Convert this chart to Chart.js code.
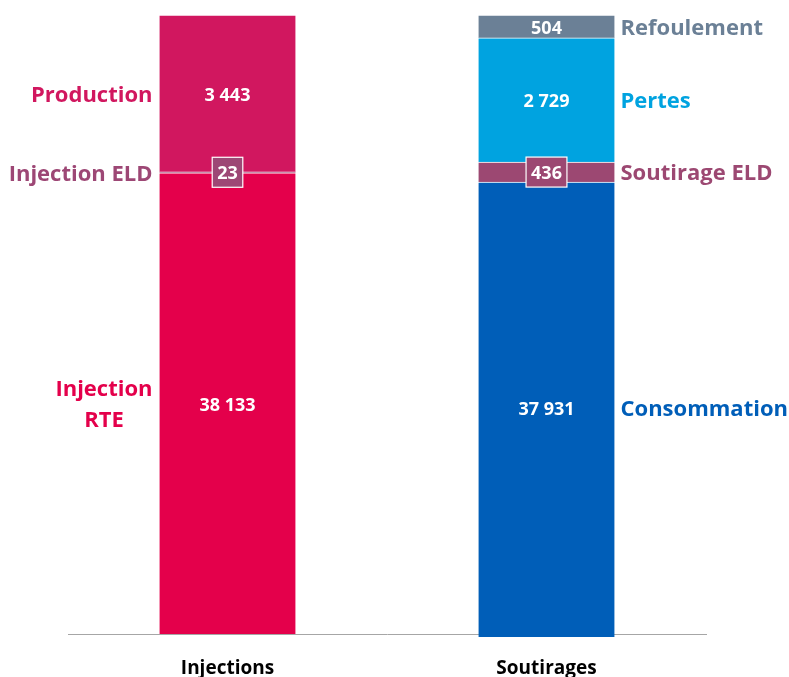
<!DOCTYPE html>
<html>
<head>
<meta charset="utf-8">
<script src="https://cdn.jsdelivr.net/npm/chart.js@4.4.1/dist/chart.umd.min.js"></script>
<style>
  html, body { margin: 0; padding: 0; background: #ffffff; }
  #wrap { width: 789px; height: 677px; position: relative; }
</style>
</head>
<body>
<div id="wrap"><canvas id="c" width="789" height="677"></canvas></div>
<script>
// ---- data ----
const categories = ['Injections', 'Soutirages'];
const injectionNames = ['Injection RTE', 'Injection ELD', 'Production'];
const injectionValues = [38133, 23, 3443];
const soutirageNames = ['Consommation', 'Soutirage ELD', 'Pertes', 'Refoulement'];
const soutirageValues = [37931, 436, 2729, 504];
const axisMin = 28000;
const axisMax = 41600;

// ---- styles ----
const injectionColors = ['#e4004b', '#9d4775', '#d1175f'];
const soutirageColors = ['#005eb8', '#9c4872', '#00a3e0', '#6b8096'];
const injectionBoxed = [false, true, false];
const soutirageBoxed = [false, true, false, false];
const FONT = '"Open Sans", sans-serif';

const datasets = [];
injectionNames.forEach((n, i) => {
  datasets.push({
    label: n, data: [injectionValues[i], null],
    backgroundColor: injectionColors[i], borderColor: '#ffffff',
    borderWidth: {top: 1, left: 0, right: 0, bottom: 0}, borderSkipped: 'start',
    side: 'left', boxed: injectionBoxed[i], clip: 0
  });
});
soutirageNames.forEach((n, i) => {
  datasets.push({
    label: n, data: [null, soutirageValues[i]],
    backgroundColor: soutirageColors[i], borderColor: '#ffffff',
    borderWidth: {top: 1, left: 0, right: 0, bottom: 0}, borderSkipped: 'start',
    side: 'right', boxed: soutirageBoxed[i],
    clip: i === 0 ? {left: 0, right: 0, top: 0, bottom: 3} : 0
  });
});

function fmt(v) {
  return v.toLocaleString('fr-FR').replace(/[\u202f\u00a0\u2009]/g, ' ');
}

const labelPlugin = {
  id: 'segLabels',
  afterDatasetsDraw(chart) {
    const ctx = chart.ctx;
    chart.data.datasets.forEach((ds, di) => {
      const meta = chart.getDatasetMeta(di);
      meta.data.forEach((el, i) => {
        const v = ds.data[i];
        if (v == null) return;
        const top = Math.max(el.y, chart.chartArea.top);
        const bot = Math.min(el.base, chart.chartArea.bottom);
        const cy = (top + bot) / 2;
        const cx = el.x;
        const half = el.width / 2;
        // value label
        ctx.save();
        ctx.font = 'bold 18px ' + FONT;
        ctx.textAlign = 'center';
        ctx.textBaseline = 'middle';
        const txt = fmt(v);
        if (ds.boxed) {
          const w = ctx.measureText(txt).width + 10;
          const h = 30;
          ctx.fillStyle = ds.backgroundColor;
          ctx.fillRect(cx - w / 2, cy - h / 2, w, h);
          ctx.strokeStyle = '#ffffff';
          ctx.lineWidth = 1.2;
          ctx.strokeRect(cx - w / 2, cy - h / 2, w, h);
        }
        ctx.fillStyle = '#ffffff';
        ctx.fillText(txt, cx, cy + 2);
        // side label
        ctx.font = 'bold 22px ' + FONT;
        ctx.fillStyle = ds.backgroundColor;
        let lines = [ds.label];
        if (ds.label === 'Injection RTE') lines = ['Injection', 'RTE'];
        const lh = 31;
        const maxW = Math.max(...lines.map(l => ctx.measureText(l).width));
        lines.forEach((l, k) => {
          const y = cy + (k - (lines.length - 1) / 2) * lh + 2;
          if (ds.side === 'left') {
            ctx.textAlign = 'center';
            ctx.fillText(l, cx - half - 7 - maxW / 2, y);
          } else {
            ctx.textAlign = 'left';
            ctx.fillText(l, cx + half + 6, y);
          }
        });
        ctx.restore();
      });
    });
  }
};

new Chart(document.getElementById('c'), {
  type: 'bar',
  data: { labels: categories, datasets: datasets },
  options: {
    responsive: false,
    animation: false,
    layout: { padding: { left: 68, right: 83, top: 15, bottom: 0 } },
    plugins: { legend: { display: false }, tooltip: { enabled: false } },
    datasets: { bar: { barThickness: 136 } },
    scales: {
      x: {
        stacked: true,
        grid: { display: false, drawTicks: false },
        border: { display: true, color: '#a6a6a6', width: 1 },
        ticks: { color: '#000000', font: { family: FONT, size: 19, weight: 'bold' }, padding: 23 },
        afterFit(scale) { scale.height = 43; }
      },
      y: {
        stacked: true, display: false, min: axisMin, max: axisMax
      }
    }
  },
  plugins: [labelPlugin]
});
</script>
</body>
</html>
